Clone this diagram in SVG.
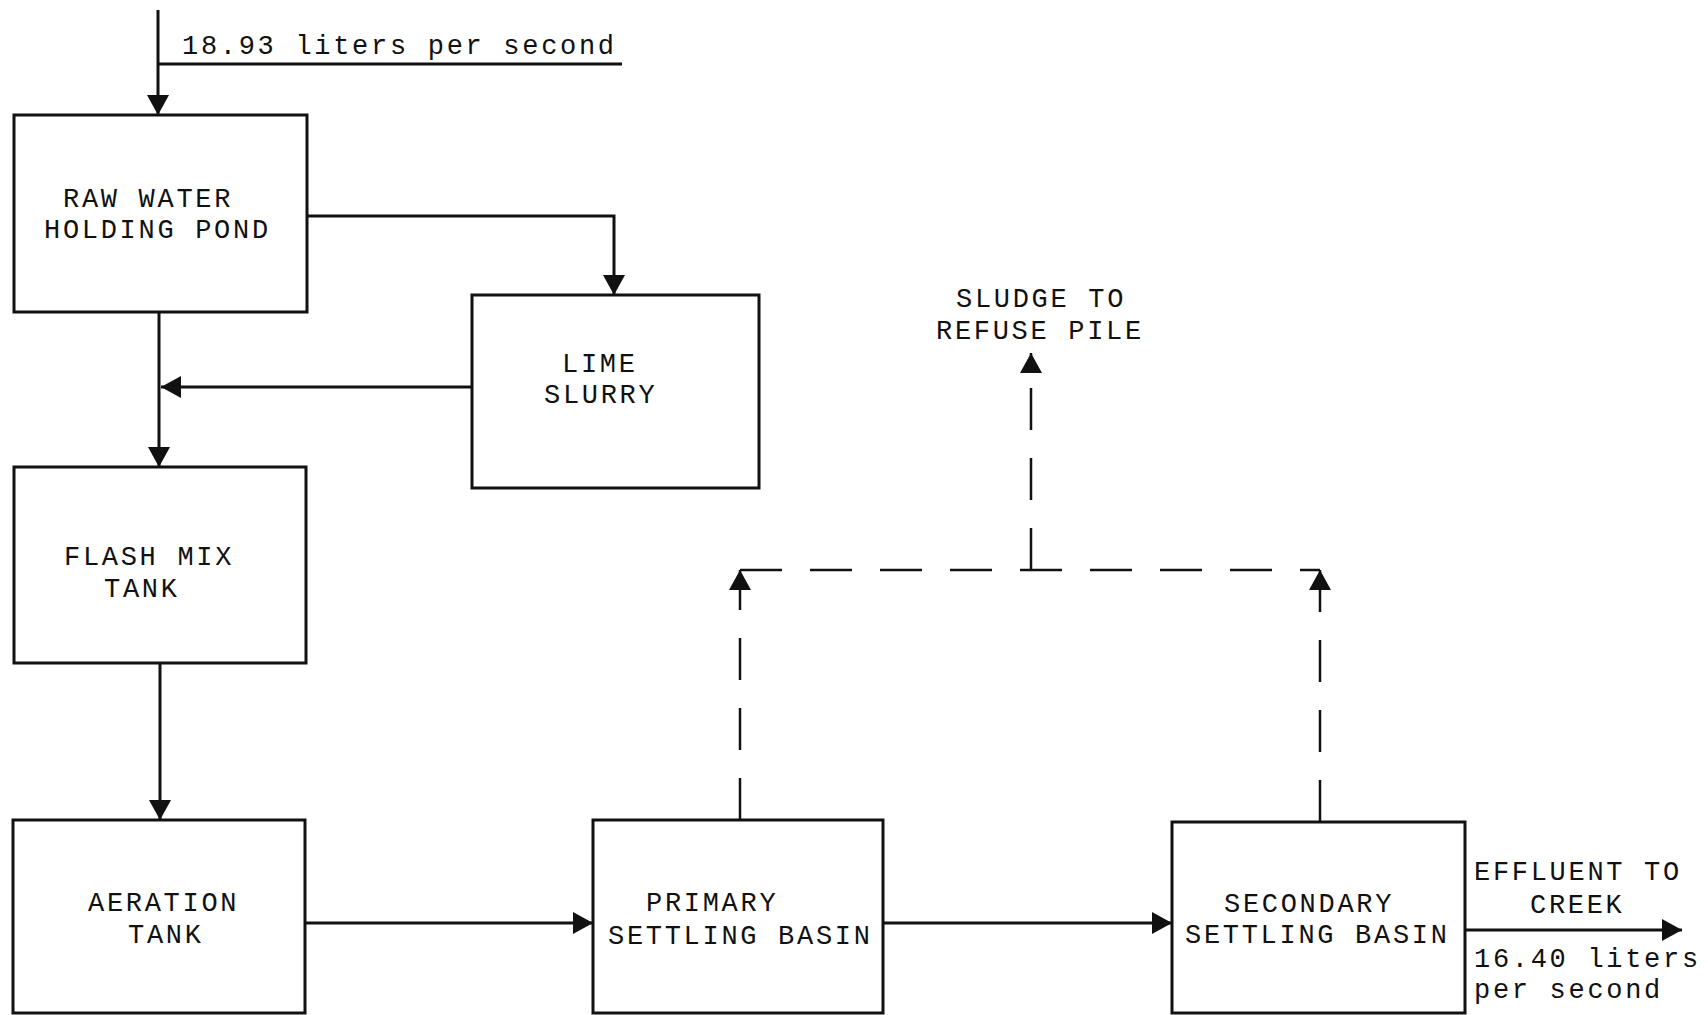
<svg xmlns="http://www.w3.org/2000/svg" width="1708" height="1015" viewBox="0 0 1708 1015">
<style>
.box{fill:none;stroke:#111;stroke-width:3}
.ln{fill:none;stroke:#111;stroke-width:3}
.dl{fill:none;stroke:#111;stroke-width:2.5;stroke-dasharray:42 28}
text{font-family:"Liberation Mono","Courier New",monospace;font-size:27px;letter-spacing:2.7px;fill:#111}
</style>
<defs>
<marker id="ah" viewBox="0 0 20 22" refX="20" refY="11" markerWidth="20" markerHeight="22" markerUnits="userSpaceOnUse" orient="auto">
<path d="M0,0 L20,11 L0,22 Z" fill="#111"/>
</marker>
</defs>
<rect width="1708" height="1015" fill="#fff"/>
<g id="input-label">
<text x="182" y="54">18.93 liters per second</text>
</g>
<g id="raw-water">
<rect class="box" x="14" y="115" width="293" height="197"/>
<text x="63" y="207">RAW WATER</text>
<text x="44" y="238">HOLDING POND</text>
</g>
<g id="lime-slurry">
<rect class="box" x="472" y="295" width="287" height="193"/>
<text x="562" y="372">LIME</text>
<text x="544" y="403">SLURRY</text>
</g>
<g id="flash-mix">
<rect class="box" x="14" y="467" width="292" height="196"/>
<text x="64" y="565">FLASH MIX</text>
<text x="104" y="597">TANK</text>
</g>
<g id="aeration">
<rect class="box" x="13" y="820" width="292" height="193"/>
<text x="88" y="911">AERATION</text>
<text x="128" y="943">TANK</text>
</g>
<g id="primary">
<rect class="box" x="593" y="820" width="290" height="193"/>
<text x="646" y="911">PRIMARY</text>
<text x="608" y="944">SETTLING BASIN</text>
</g>
<g id="secondary">
<rect class="box" x="1172" y="822" width="293" height="191"/>
<text x="1224" y="912">SECONDARY</text>
<text x="1185" y="943">SETTLING BASIN</text>
</g>
<g id="sludge-label">
<text x="956" y="307">SLUDGE TO</text>
<text x="936" y="339">REFUSE PILE</text>
</g>
<g id="effluent-label">
<text x="1474" y="880">EFFLUENT TO</text>
<text x="1530" y="913">CREEK</text>
<text x="1474" y="967">16.40 liters</text>
<text x="1474" y="998">per second</text>
</g>
<g id="connectors">
<path class="ln" d="M158,10 V115" marker-end="url(#ah)"/>
<path class="ln" d="M158,64 H622"/>
<path class="ln" d="M307,216 H614 V295" marker-end="url(#ah)"/>
<path class="ln" d="M159,312 V467" marker-end="url(#ah)"/>
<path class="ln" d="M472,387 H161" marker-end="url(#ah)"/>
<path class="ln" d="M160,663 V820" marker-end="url(#ah)"/>
<path class="ln" d="M305,923 H593" marker-end="url(#ah)"/>
<path class="ln" d="M883,923 H1172" marker-end="url(#ah)"/>
<path class="ln" d="M1465,930 H1682" marker-end="url(#ah)"/>
<path class="dl" d="M740,820 V570" marker-end="url(#ah)"/>
<path class="dl" d="M1320,822 V570" marker-end="url(#ah)"/>
<path class="dl" d="M740,570 H1320"/>
<path class="dl" d="M1031,570 V353" marker-end="url(#ah)"/>
</g>
</svg>
